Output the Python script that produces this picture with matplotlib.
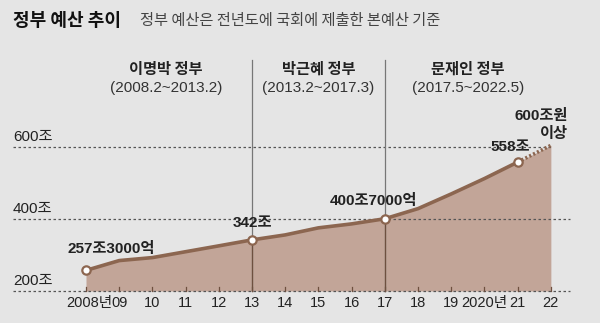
import matplotlib
matplotlib.use("Agg")
import matplotlib.pyplot as plt

years = list(range(2008, 2023))
budget = [257.3, 284.5, 292.8, 309.1, 325.4, 342.0, 355.8, 375.4, 386.4, 400.7, 428.8, 469.6, 512.3, 558.0, 604.4]
tick_labels = ["2008년", "09", "10", "11", "12", "13", "14", "15", "16", "17", "18", "19", "2020년", "21", "22"]
y_levels = [200, 400, 600]
y_labels = ["200조", "400조", "600조"]
eras = ["이명박 정부", "박근혜 정부", "문재인 정부"]
era_periods = ["(2008.2~2013.2)", "(2013.2~2017.3)", "(2017.5~2022.5)"]
era_centers = [2010.4, 2015.0, 2019.5]
era_bounds = [2013, 2017]
point_labels = {2008: "257조3000억", 2013: "342조", 2017: "400조7000억", 2021: "558조"}

plt.rcParams["font.family"] = ["Liberation Sans", "Noto Sans CJK KR"]
KR = ["Noto Sans CJK KR", "DejaVu Sans"]

bg = "#e5e5e5"
fill_c = "#c2a598"
line_c = "#8c6650"
txt = "#222222"

fig = plt.figure(figsize=(6, 3.23), dpi=100, facecolor=bg)
ax = fig.add_axes([0, 0, 1, 1])
ax.set_facecolor(bg)
ax.set_xlim(2005.41, 2023.48)
ax.set_ylim(111.1, 1008.3)
ax.axis("off")

# area + line
ax.fill_between(years, budget, 200, color=fill_c, lw=0, zorder=1)
ax.plot(years[:-1], budget[:-1], color=line_c, lw=2.6, solid_capstyle="round", zorder=3)
ax.plot(years[-2:], budget[-2:], color=line_c, lw=2.6, ls=(0, (0.6, 0.6)), zorder=3)

# grid lines
for lv in y_levels:
    xmax = 2022.07 if lv == 600 else 2022.58
    ax.plot([2005.8, xmax], [lv, lv], color="#555555", lw=0.9, ls=(0, (2, 2)), zorder=2)

for lv, lab in zip(y_levels, y_labels):
    ax.text(2005.8, lv + 8, lab, fontsize=11, color=txt, ha="left", va="bottom")

# era boundaries
for b in era_bounds:
    ax.plot([b, b], [200, 842], color="#777777", lw=0.9, zorder=2)
    ax.plot([b, b], [200, budget[years.index(b)]], color="#6e5040", lw=0.9, zorder=2)

for cx, name, per in zip(era_centers, eras, era_periods):
    ax.text(cx, 817, name, fontsize=11, fontweight="bold", family=KR, color=txt, ha="center", va="center")
    ax.text(cx, 764, per, fontsize=11, color="#333333", ha="center", va="center")

# year ticks
for yr, lab in zip(years, tick_labels):
    ax.plot([yr, yr], [200, 212], color="#6e5040", lw=0.9, zorder=2)
    xoff = 0.1 if yr == 2008 else 0
    ax.text(yr + xoff, 167, lab, fontsize=10.5, color=txt, ha="center", va="center")

# markers
for yr in point_labels:
    i = years.index(yr)
    ax.plot(yr, budget[i], "o", ms=6, mfc="white", mec=line_c, mew=1.6, zorder=4)

ax.text(2007.43, 318, point_labels[2008], fontsize=11, fontweight="bold", color=txt, ha="left", va="center")
ax.text(2013.0, 388, point_labels[2013], fontsize=11, fontweight="bold", color=txt, ha="center", va="center")
ax.text(2016.65, 450, point_labels[2017], fontsize=11, fontweight="bold", color=txt, ha="center", va="center")
ax.text(2020.77, 600, point_labels[2021], fontsize=11, fontweight="bold", color=txt, ha="center", va="center")
ax.text(2022.5, 687, "600조원", fontsize=11, fontweight="bold", color=txt, ha="right", va="center")
ax.text(2022.5, 635, "이상", fontsize=11, fontweight="bold", color=txt, ha="right", va="center")

# title
fig.text(13 / 600, 1 - 20 / 323, "정부 예산 추이", fontsize=13, fontweight="bold", family=KR, color="#111111", ha="left", va="center")
fig.text(140 / 600, 1 - 21 / 323, "정부 예산은 전년도에 국회에 제출한 본예산 기준", fontsize=11, family=KR, color="#444444", ha="left", va="center")

fig.savefig("out.png", dpi=100, facecolor=bg)
